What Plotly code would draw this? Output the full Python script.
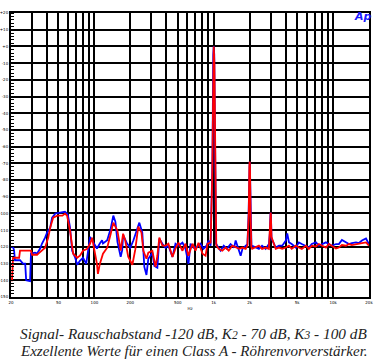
import plotly.graph_objects as go

# ---- data (Hz, dBr) ----
blue_freq = [20, 20.8, 21.2, 21.6, 23.8, 25.2, 26.3, 26.8, 28.9, 29.4, 31.8, 33.1, 35.1, 36.4, 38.6, 40.1,
             42.6, 44.2, 47.1, 51.9, 55.1, 56.7, 59.0, 60.1, 62.5, 65.1, 69.0, 71.8, 75.6, 80.3, 85.4, 88.4,
             92, 97.5, 105, 111, 116, 118, 128, 137, 144, 150, 156, 166, 171, 174, 188, 200,
             212, 229, 238, 252, 262, 273, 283, 306, 318, 337, 350, 371, 394, 417, 451, 478, 506, 547,
             580, 614, 639, 677, 731, 775, 821, 870, 905, 941,
             975, 990, 1000, 1010, 1025, 1045,
             1070, 1141, 1213, 1290, 1384, 1482, 1526, 1580, 1634, 1681, 1740, 1852, 1915,
             1960, 1985, 2000, 2015, 2040, 2070,
             2100, 2250, 2390, 2540, 2724, 2900,
             2950, 2985, 3000, 3015, 3050,
             3305, 3520, 3750, 4020, 4130, 4270,
             4500, 4875, 5166, 5470, 5918, 6266, 6635, 7180, 7600, 8050, 8710, 9220, 9770,
             10570, 11190, 11860, 12830, 13580, 14380, 15560, 16480, 17460, 18880, 20000]
blue_db = [-120, -120, -122, -128, -128, -130, -130, -140, -140.5, -124, -123.5, -124, -121, -118, -114.5, -111.5,
           -108.5, -102.5, -100, -99.5, -99, -99, -100, -101.3, -108.5, -122.3, -126.5, -130.7, -128.3, -126.5, -130.2, -122.3,
           -114, -117, -121, -118, -116, -118, -116, -109, -101.3, -105, -117, -126, -122, -113, -118, -120.5,
           -116.2, -109, -105.5, -111.5, -132, -136.8, -127.1, -123.5, -131.4, -132.5, -115.1, -118.1, -120.5, -119.3, -126, -118.1, -119.3, -117.5,
           -121.1, -130.2, -118.1, -120.5, -119.9, -118.1, -121.1, -119.3, -116.2, -119.3,
           -70, -5, 0, -5, -70, -118,
           -119.3, -122.3, -119.3, -121.2, -118.3, -120.4, -116.2, -119.3, -123.4, -125.3, -121.2, -119.3, -118.3,
           -100, -75, -69, -76, -105, -119,
           -119.3, -120.4, -121.2, -119.3, -121.2, -118.3,
           -112, -101, -99.5, -101, -115,
           -120.4, -119.3, -119.3, -116.2, -112, -117.3,
           -118.3, -120.4, -117.3, -118.3, -119.3, -120.4, -118.3, -117.3, -119.3, -118.3, -117.3, -118.3, -119.3,
           -118.3, -118.3, -115.8, -117.3, -118.3, -117.7, -117.3, -117.7, -116.2, -115, -118.3]

red_freq = [20, 20.4, 20.8, 23.4, 23.8, 29.4, 30, 33.1, 33.9, 36.4, 38.6, 41.0, 42.6, 45.1, 48.9, 53.9,
            56.7, 59.0, 62.5, 66.4, 71.8, 75.6, 80.3, 87.1, 92, 95.6, 99.5, 105, 107, 111, 118, 128,
            137, 144, 156, 166, 174, 181, 192, 208, 220, 233, 248, 257, 273, 283, 306, 312, 325, 337,
            350, 371, 394, 417, 451, 478, 506, 547, 580, 614, 664, 703, 745, 806, 854, 887, 941,
            970, 988, 1000, 1012, 1030, 1050,
            1100, 1180, 1257, 1335, 1430, 1526, 1634, 1740, 1852, 1915,
            1965, 1988, 2000, 2012, 2035, 2065,
            2100, 2250, 2390, 2540, 2724, 2900,
            2955, 2988, 3000, 3012, 3045,
            3305, 3520, 3750, 4020, 4270,
            4500, 4875, 5166, 5470, 5918, 6266, 6635, 7180, 7600, 8050, 8710, 9220, 9770,
            10570, 11190, 11860, 12830, 13580, 14380, 15560, 16480, 17460, 18880, 19500, 20000]
red_db = [-140, -140, -126.5, -126.5, -122.3, -122.3, -124.7, -124.7, -124, -122.3, -120.5, -114.5, -108.5, -102.5, -101.3, -101.3,
          -100.1, -101.3, -110.3, -124.1, -126.5, -125.3, -122.3, -121.1, -118.1, -114.5, -120.5, -130.2, -136.2, -130.2, -124.1, -120.5,
          -112.1, -105.5, -110.3, -122.3, -112.1, -116, -125.9, -130.7, -121.7, -107.9, -111.5, -122.3, -127.1, -123.5, -122.3, -126, -132, -125.3,
          -114.5, -119.3, -119.3, -118.1, -126, -121.1, -117.5, -122.3, -118.1, -125.3, -118.1, -122.3, -117.5, -124.1, -125.3, -118.1, -117.5,
          -80, -10, 0, -10, -80, -119,
          -121.2, -122.3, -120.4, -122.3, -119.3, -120.4, -121.2, -120.4, -121.2, -119.3,
          -100, -72, -69, -72, -100, -120,
          -121.2, -120.4, -119.3, -121.2, -120.4, -121.2,
          -112, -101, -99.5, -101, -114,
          -121.2, -120.4, -121.2, -120.4, -119.3,
          -121.2, -119.3, -120.4, -121.2, -119.3, -121.2, -119.3, -119.8, -118.3, -119.3, -120.4, -118.3, -119.3,
          -121, -120.4, -118.9, -119.3, -118.3, -118.9, -118.3, -118.3, -117.7, -117.3, -118.7, -119.3]

x_grid = [20, 30, 40, 50, 60, 70, 80, 90, 100, 200, 300, 400, 500, 600, 700, 800, 900,
          1000, 2000, 3000, 4000, 5000, 6000, 7000, 8000, 9000, 10000, 20000]
x_text = ["20", "", "", "50", "", "", "", "", "100", "200", "", "", "500", "", "", "", "",
          "1k", "2k", "", "", "5k", "", "", "", "", "10k", "20k"]
y_grid = [20, 10, 0, -10, -20, -30, -40, -50, -60, -70, -80, -90, -100, -110, -120, -130, -140, -150]
y_text = ["+20", "+10", "+0", "-10", "-20", "-30", "-40", "-50", "-60", "-70", "-80", "-90",
          "-100", "-110", "-120", "-130", "-140", "-150"]

caption1 = ("Signal- Rauschabstand -120 dB, K<span style='font-size:11.5px'>2</span> - 70 dB, "
            "K<span style='font-size:11.5px'>3</span> - 100 dB")
caption2 = "Exzellente Werte für einen Class A - Röhrenvorverstärker."

fig = go.Figure()
fig.add_trace(go.Scatter(x=blue_freq, y=blue_db, mode="lines",
                         line=dict(color="#0000ff", width=1.8), showlegend=False))
fig.add_trace(go.Scatter(x=red_freq, y=red_db, mode="lines",
                         line=dict(color="#ff0000", width=1.8), showlegend=False))

fig.update_layout(
    width=378, height=364,
    margin=dict(l=11, r=9, t=13, b=67),
    paper_bgcolor="white", plot_bgcolor="white",
    font=dict(family="DejaVu Sans", size=4, color="black"),
)
fig.update_xaxes(type="log", range=[1.30103, 4.30103], tickvals=x_grid, ticktext=x_text,
                 showgrid=True, gridcolor="black", gridwidth=2,
                 showline=True, linecolor="black", linewidth=2, mirror=True,
                 ticks="", tickfont=dict(size=4), automargin=False,
                 title=dict(text="Hz", font=dict(size=4), standoff=3), zeroline=False)
fig.update_yaxes(range=[-150, 20], tickvals=y_grid, ticktext=y_text,
                 showgrid=True, gridcolor="black", gridwidth=2,
                 showline=True, linecolor="black", linewidth=2, mirror=True,
                 ticks="", tickfont=dict(size=4), automargin=False, zeroline=False,
                 ticklabelstandoff=0,
                 minor=dict(dtick=2, ticks="inside", ticklen=3, tickcolor="black", tickwidth=1,
                            showgrid=False))

fig.add_annotation(text="<b><i>Ap</i></b>", xref="paper", yref="paper", x=0.982, y=0.986,
                   xanchor="center", yanchor="middle",
                   showarrow=False, font=dict(family="DejaVu Sans", size=11, color="#1a1aff"))
fig.add_annotation(text="<i>" + caption1 + "</i>", xref="paper", yref="paper",
                   x=0.02, y=-0.127, xanchor="left", yanchor="middle", showarrow=False,
                   font=dict(family="Liberation Serif", size=15.3, color="#222222"))
fig.add_annotation(text="<i>" + caption2 + "</i>", xref="paper", yref="paper",
                   x=0.02, y=-0.19, xanchor="left", yanchor="middle", showarrow=False,
                   font=dict(family="Liberation Serif", size=15, color="#222222"))

fig.write_html("out.html", config={"displayModeBar": False},
               post_script="document.body.style.margin='0';")
